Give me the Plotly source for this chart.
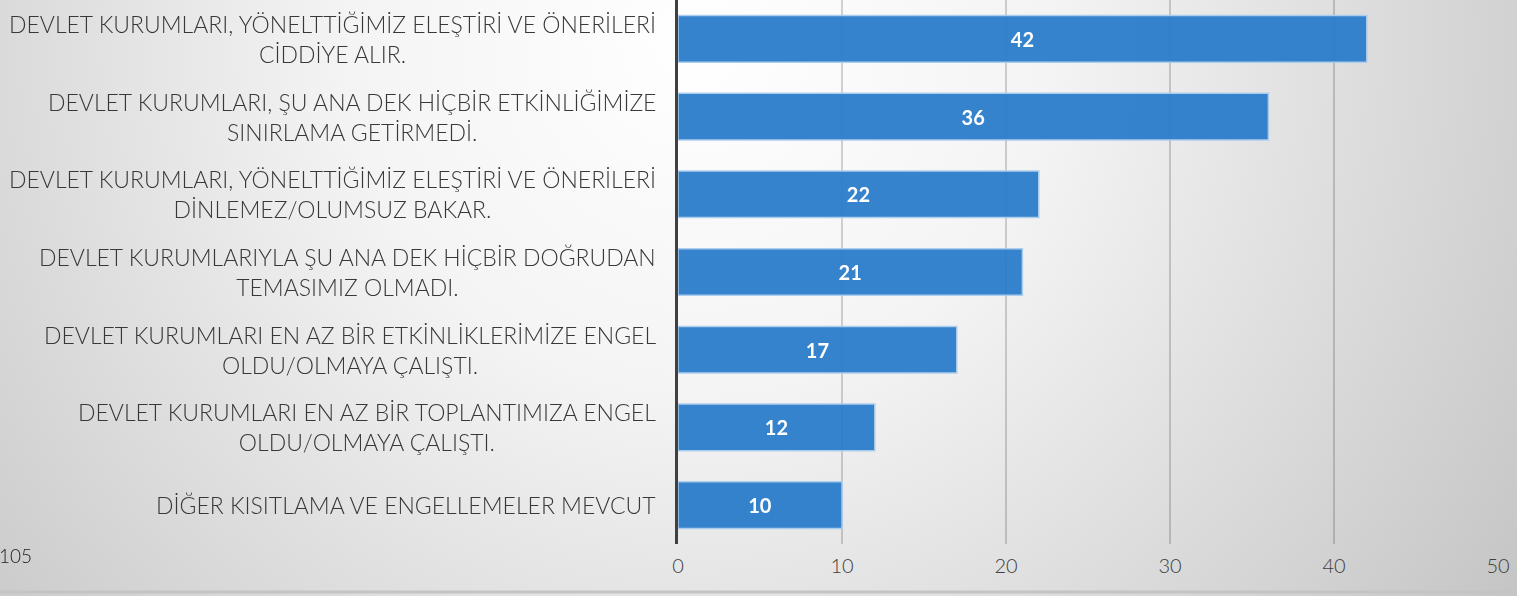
import base64
import plotly.graph_objects as go

categories = [
    "DEVLET KURUMLARI, YÖNELTTİĞİMİZ ELEŞTİRİ VE ÖNERİLERİ<br>CİDDİYE ALIR.",
    "DEVLET KURUMLARI, ŞU ANA DEK HİÇBİR ETKİNLİĞİMİZE<br>SINIRLAMA GETİRMEDİ.",
    "DEVLET KURUMLARI, YÖNELTTİĞİMİZ ELEŞTİRİ VE ÖNERİLERİ<br>DİNLEMEZ/OLUMSUZ BAKAR.",
    "DEVLET KURUMLARIYLA ŞU ANA DEK HİÇBİR DOĞRUDAN<br>TEMASIMIZ OLMADI.",
    "DEVLET KURUMLARI EN AZ BİR ETKİNLİKLERİMİZE ENGEL<br>OLDU/OLMAYA ÇALIŞTI.",
    "DEVLET KURUMLARI EN AZ BİR TOPLANTIMIZA ENGEL<br>OLDU/OLMAYA ÇALIŞTI.",
    "DİĞER KISITLAMA VE ENGELLEMELER MEVCUT",
]
values = [42, 36, 22, 21, 17, 12, 10]
x_ticks = [0, 10, 20, 30, 40, 50]
page_number = "105"

W, H = 1517, 596
L, R, T, B = 678, 19, 0, 52
PW = W - L - R
PH = H - T - B

FONT = "Lato"

svg = f'''<svg xmlns="http://www.w3.org/2000/svg" width="{W}" height="{H}" viewBox="0 0 {W} {H}">
<defs><radialGradient id="g" cx="700" cy="40" r="1000" gradientUnits="userSpaceOnUse">
<stop offset="0" stop-color="#ffffff"/><stop offset="0.35" stop-color="#f4f4f4"/><stop offset="1" stop-color="#c4c4c4"/></radialGradient></defs>
<rect width="{W}" height="{H}" fill="url(#g)"/></svg>'''
bg_uri = "data:image/svg+xml;base64," + base64.b64encode(svg.encode()).decode()

fig = go.Figure()
fig.add_trace(go.Bar(
    x=values, y=categories, orientation="h",
    marker=dict(color="#2b7ccb", line=dict(color="#a9cbec", width=1.5)),
    opacity=0.95,
    width=0.6,
    text=values, textposition="inside", insidetextanchor="middle",
    textfont=dict(family=FONT, size=20, color="white", weight="bold"),
    textangle=0,
    hoverinfo="skip",
))

for cat in categories:
    fig.add_annotation(
        x=(658 - L) / PW, xref="paper", y=cat, yref="y",
        xanchor="right", yanchor="middle", align="center",
        text=cat, showarrow=False,
        font=dict(family=FONT, size=23, color="#383838", weight=300),
    )

fig.add_annotation(
    x=(-3 - L) / PW, xref="paper", y=(H - B - 555) / PH, yref="paper",
    xanchor="left", yanchor="middle", text=page_number, showarrow=False,
    font=dict(family=FONT, size=19, color="#222222", weight=300),
)

fig.add_shape(type="line", xref="paper", yref="paper",
              x0=-L / PW, x1=(W - L) / PW, y0=(H - B - 592) / PH, y1=(H - B - 592) / PH,
              line=dict(color="#c4c4c4", width=3))

fig.add_layout_image(dict(
    source=bg_uri, xref="paper", yref="paper",
    x=-L / PW, y=1 + T / PH, sizex=W / PW, sizey=H / PH,
    xanchor="left", yanchor="top", sizing="stretch", layer="below",
))

fig.update_layout(
    width=W, height=H,
    margin=dict(l=L, r=R, t=T, b=B, pad=0),
    paper_bgcolor="rgba(0,0,0,0)", plot_bgcolor="rgba(0,0,0,0)",
    showlegend=False,
    bargap=0.4,
    xaxis=dict(range=[0, 50], tickvals=x_ticks, showgrid=True,
               gridcolor="rgba(0,0,0,0.17)", gridwidth=2,
               zeroline=False, showline=False, ticks="",
               tickfont=dict(family=FONT, size=20, color="#404040", weight=300),
               ticklabelstandoff=8, fixedrange=True),
    yaxis=dict(autorange="reversed", showticklabels=False, showgrid=False,
               showline=True, linecolor="#404040", linewidth=3, ticks="",
               zeroline=False, fixedrange=True),
)

fig.write_html("out.html", config={"displayModeBar": False},
               post_script="document.body.style.margin='0';document.body.style.overflow='hidden';")
